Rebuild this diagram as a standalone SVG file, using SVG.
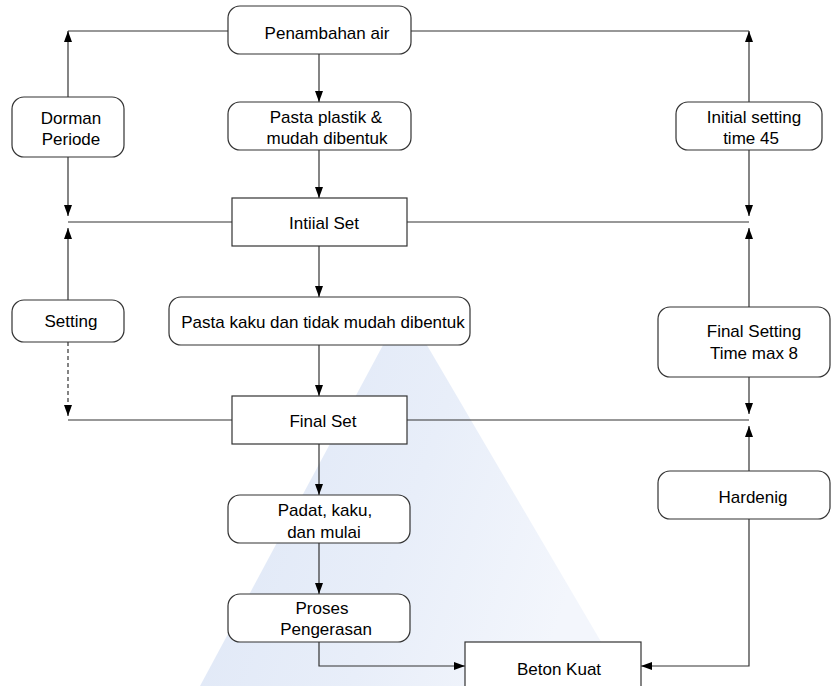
<svg xmlns="http://www.w3.org/2000/svg" width="832" height="686" viewBox="0 0 832 686">
<defs>
<linearGradient id="wm" x1="0" y1="0" x2="1" y2="0.3">
<stop offset="0" stop-color="#dde6f6"/>
<stop offset="0.6" stop-color="#e8eef9"/>
<stop offset="1" stop-color="#f3f6fc"/>
</linearGradient>
<marker id="ah" markerUnits="userSpaceOnUse" markerWidth="11" markerHeight="8" refX="11" refY="4" orient="auto">
<path d="M0,0 L11,4 L0,8 Z" fill="#000"/>
</marker>
<style>
.box{fill:#fff;stroke:#333;stroke-width:1.2}
.ln{fill:none;stroke:#333;stroke-width:1.2}
.ar{fill:none;stroke:#333;stroke-width:1.2;marker-end:url(#ah)}
.dash{stroke-dasharray:4,3}
text{font-family:"Liberation Sans",Arial,sans-serif;font-size:17px;fill:#000;text-anchor:middle}
</style>
</defs>
<rect width="832" height="686" fill="#fff"/>
<polygon points="404,306 200,686 627,686" fill="url(#wm)"/>
<g id="connectors">
<path class="ar" d="M319,54 V102"/>
<path class="ar" d="M319,150 V198"/>
<path class="ar" d="M319,246 V297"/>
<path class="ar" d="M319,345 V396"/>
<path class="ar" d="M319,444 V495"/>
<path class="ar" d="M319,543 V594"/>
<path class="ar" d="M319,642 V666 H465"/>
<path class="ar" d="M749,519 V666 H641"/>
<path class="ln" d="M228,31 H68"/>
<path class="ln" d="M411,31 H749"/>
<path class="ar" d="M68,97 V31"/>
<path class="ar" d="M68,157 V216"/>
<path class="ln" d="M68,222 H232"/>
<path class="ln" d="M407,222 H749"/>
<path class="ar" d="M68,300 V228"/>
<path class="ar dash" d="M68,342 V416"/>
<path class="ln" d="M68,420 H232"/>
<path class="ln" d="M407,420 H749"/>
<path class="ar" d="M749,102 V31"/>
<path class="ar" d="M749,150 V216"/>
<path class="ar" d="M749,307 V228"/>
<path class="ar" d="M749,377 V414"/>
<path class="ar" d="M749,471 V426"/>
</g>
<g id="penambahan"><rect class="box" x="228" y="6" width="183" height="48" rx="12"/><text x="327" y="39">Penambahan air</text></g>
<g id="pasta-plastik"><rect class="box" x="228" y="102" width="183" height="48" rx="12"/><text x="326" y="123">Pasta plastik &amp;</text><text x="327" y="144">mudah dibentuk</text></g>
<g id="intiial-set"><rect class="box" x="232" y="198" width="175" height="48"/><text x="324" y="229">Intiial Set</text></g>
<g id="pasta-kaku"><rect class="box" x="169" y="297" width="301" height="48" rx="12"/><text x="323" y="328">Pasta kaku dan tidak mudah dibentuk</text></g>
<g id="final-set"><rect class="box" x="232" y="396" width="175" height="48"/><text x="323" y="427">Final Set</text></g>
<g id="padat"><rect class="box" x="228" y="495" width="182" height="48" rx="12"/><text x="325" y="516">Padat, kaku,</text><text x="324" y="538">dan mulai</text></g>
<g id="proses"><rect class="box" x="228" y="594" width="182" height="48" rx="12"/><text x="322" y="614">Proses</text><text x="326" y="635">Pengerasan</text></g>
<g id="beton"><rect class="box" x="465" y="642" width="176" height="48"/><text x="559" y="675">Beton Kuat</text></g>
<g id="dorman"><rect class="box" x="12" y="97" width="112" height="60" rx="12"/><text x="71" y="124">Dorman</text><text x="71" y="145">Periode</text></g>
<g id="setting"><rect class="box" x="12" y="300" width="112" height="42" rx="12"/><text x="71" y="327">Setting</text></g>
<g id="initial-setting"><rect class="box" x="676" y="102" width="146" height="48" rx="12"/><text x="754" y="123">Initial setting</text><text x="751" y="144">time 45</text></g>
<g id="final-setting"><rect class="box" x="658" y="307" width="172" height="70" rx="12"/><text x="754" y="337">Final Setting</text><text x="754" y="359">Time max 8</text></g>
<g id="hardenig"><rect class="box" x="658" y="471" width="172" height="48" rx="12"/><text x="753" y="503">Hardenig</text></g>
</svg>
